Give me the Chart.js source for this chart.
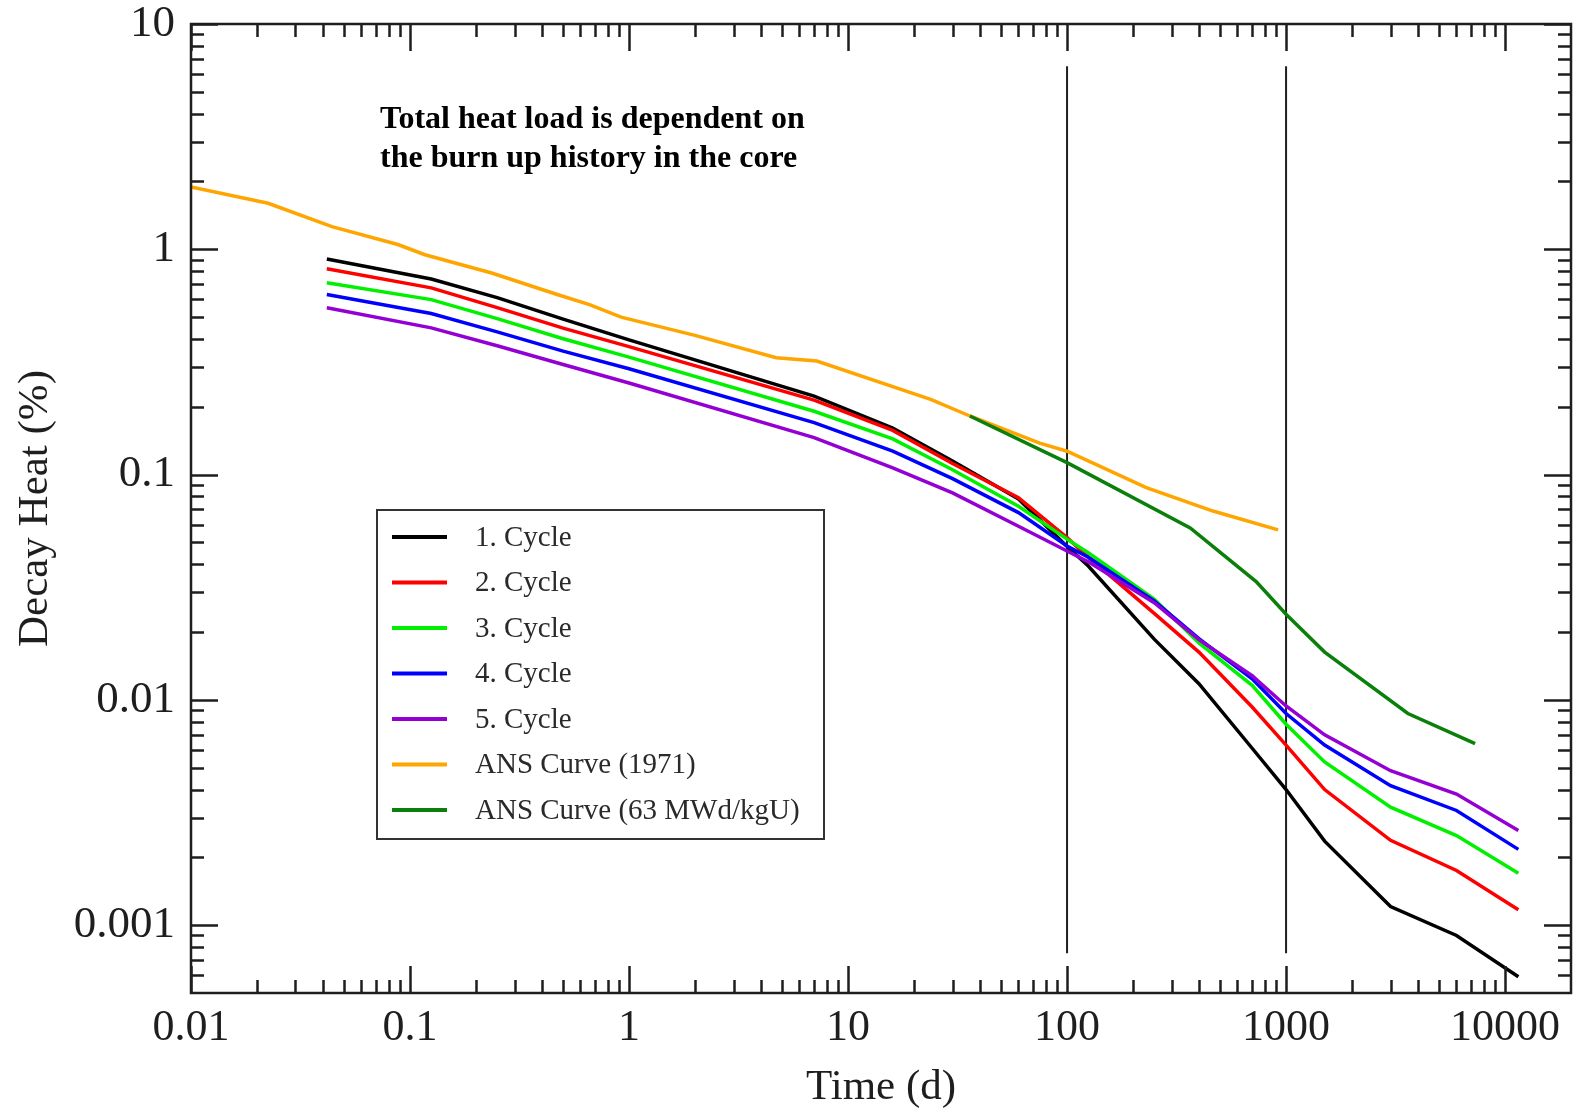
<!DOCTYPE html>
<html>
<head>
<meta charset="utf-8">
<script src="https://cdn.jsdelivr.net/npm/chart.js@4/dist/chart.umd.min.js"></script>
<style>
  html, body { margin: 0; padding: 0; background: #ffffff; }
  #wrap { width: 1576px; height: 1113px; }
</style>
</head>
<body>
<div id="wrap"><canvas id="c" width="1576" height="1113"></canvas></div>
<script>
// Decay heat after shutdown (% of operating power) versus cooling time in days.
const cycleTimes = [0.0417, 0.125, 0.25, 0.5, 1, 7, 16, 30, 60, 100, 125, 250, 400, 700, 1000, 1500, 3000, 6000, 11500];
const cycle1 = [0.906, 0.738, 0.61, 0.49, 0.396, 0.223, 0.161, 0.115, 0.078, 0.048, 0.0393, 0.0186, 0.0118, 0.0061, 0.0040, 0.00236, 0.00121, 0.00090, 0.00059];
const cycle2 = [0.82, 0.674, 0.551, 0.447, 0.37, 0.214, 0.157, 0.112, 0.079, 0.0525, 0.043, 0.0242, 0.0163, 0.0093, 0.0063, 0.0040, 0.00238, 0.00175, 0.00117];
const cycle3 = [0.71, 0.598, 0.492, 0.401, 0.332, 0.191, 0.144, 0.105, 0.0724, 0.0517, 0.045, 0.028, 0.0179, 0.0116, 0.0078, 0.0053, 0.00334, 0.0025, 0.0017];
const cycle4 = [0.63, 0.519, 0.430, 0.353, 0.295, 0.170, 0.127, 0.096, 0.0678, 0.0482, 0.043, 0.0275, 0.0187, 0.0124, 0.0087, 0.0063, 0.00416, 0.00323, 0.00217];
const cycle5 = [0.55, 0.448, 0.373, 0.308, 0.255, 0.146, 0.107, 0.083, 0.059, 0.0458, 0.041, 0.027, 0.0185, 0.0128, 0.0094, 0.0070, 0.00485, 0.00382, 0.00263];

const ans1971Times  = [0.01, 0.0225, 0.044, 0.088, 0.117, 0.236, 0.47, 0.66, 0.92, 2, 4.7, 7.2, 24, 36, 75, 100, 230, 464, 920];
const ans1971Values = [1.89, 1.60, 1.26, 1.05, 0.946, 0.785, 0.63, 0.568, 0.50, 0.415, 0.330, 0.319, 0.215, 0.182, 0.138, 0.127, 0.0875, 0.0689, 0.0568];

const ans63Times  = [36, 100, 365, 730, 1000, 1500, 3600, 7300];
const ans63Values = [0.182, 0.113, 0.058, 0.0335, 0.024, 0.0163, 0.0087, 0.0064];

// Reference verticals at 100 d and 1000 d
const markerTimes = [100, 1000];
const markerRange = [0.00075, 6.5];

const seriesNames  = ['1. Cycle', '2. Cycle', '3. Cycle', '4. Cycle', '5. Cycle', 'ANS Curve (1971)', 'ANS Curve (63 MWd/kgU)'];
const seriesColors = ['#000000', '#ff0000', '#00f000', '#0000ff', '#9400d3', '#ffa500', '#0a800a'];

const xTickValues = [0.01, 0.1, 1, 10, 100, 1000, 10000];
const xTickLabels = ['0.01', '0.1', '1', '10', '100', '1000', '10000'];
const yTickValues = [0.001, 0.01, 0.1, 1, 10];
const yTickLabels = ['0.001', '0.01', '0.1', '1', '10'];

const noteLines = ['Total heat load is dependent on', 'the burn up history in the core'];

const X_MIN = 0.01, X_MAX = 20000, Y_MIN = 0.0005, Y_MAX = 10;
const INK = '#1e1e1e';
const SERIF = "'Liberation Serif', 'Times New Roman', serif";

function pairs(xs, ys) { return xs.map((x, i) => ({ x: x, y: ys[i] })); }

const seriesData = [
  pairs(cycleTimes, cycle1),
  pairs(cycleTimes, cycle2),
  pairs(cycleTimes, cycle3),
  pairs(cycleTimes, cycle4),
  pairs(cycleTimes, cycle5),
  pairs(ans1971Times, ans1971Values),
  pairs(ans63Times, ans63Values)
];
const drawOrder = [7, 6, 5, 4, 3, 2, 1];

const datasets = seriesData.map((d, i) => ({
  label: seriesNames[i],
  data: d,
  borderColor: seriesColors[i],
  backgroundColor: seriesColors[i],
  borderWidth: 3.5,
  pointRadius: 0,
  tension: 0,
  fill: false,
  order: drawOrder[i],
  inLegend: true
}));
markerTimes.forEach(t => {
  datasets.push({
    label: '',
    data: [{ x: t, y: markerRange[0] }, { x: t, y: markerRange[1] }],
    borderColor: INK,
    borderWidth: 2,
    pointRadius: 0,
    fill: false,
    order: 8,
    inLegend: false
  });
});

function labelFor(values, labels) {
  return function (value) {
    const i = values.findIndex(v => Math.abs(Math.log10(v) - Math.log10(value)) < 1e-6);
    return i >= 0 ? labels[i] : '';
  };
}

// minor tick positions 2..9 within every decade of a range
function minorTicks(min, max) {
  const out = [];
  for (let e = Math.floor(Math.log10(min)); e <= Math.ceil(Math.log10(max)); e++) {
    for (let k = 2; k <= 9; k++) {
      const v = k * Math.pow(10, e);
      if (v > min * 1.0001 && v < max * 0.9999) out.push(v);
    }
  }
  return out;
}

const frameTicks = {
  id: 'frameTicks',
  afterDatasetsDraw(chart) {
    const { ctx, chartArea: a, scales: { x, y } } = chart;
    const MAJOR = 27, MINOR = 13;
    ctx.save();
    ctx.strokeStyle = INK;
    ctx.lineWidth = 2.5;
    ctx.lineCap = 'butt';
    ctx.strokeRect(a.left, a.top, a.right - a.left, a.bottom - a.top);
    ctx.beginPath();
    const xt = xTickValues.map(v => [v, MAJOR]).concat(minorTicks(X_MIN, X_MAX).map(v => [v, MINOR]));
    xt.forEach(([v, len]) => {
      const px = Math.round(x.getPixelForValue(v)) + 0.5;
      ctx.moveTo(px, a.bottom); ctx.lineTo(px, a.bottom - len);
      ctx.moveTo(px, a.top); ctx.lineTo(px, a.top + len);
    });
    const yt = yTickValues.map(v => [v, MAJOR]).concat(minorTicks(Y_MIN, Y_MAX).map(v => [v, MINOR]));
    yt.forEach(([v, len]) => {
      const py = Math.round(y.getPixelForValue(v)) + 0.5;
      ctx.moveTo(a.left, py); ctx.lineTo(a.left + len, py);
      ctx.moveTo(a.right, py); ctx.lineTo(a.right - len, py);
    });
    ctx.stroke();
    ctx.restore();
  }
};

const boxLegend = {
  id: 'boxLegend',
  afterDraw(chart) {
    const { ctx } = chart;
    const box = { left: 377, top: 510, right: 824, bottom: 839 };
    ctx.save();
    ctx.fillStyle = '#ffffff';
    ctx.fillRect(box.left, box.top, box.right - box.left, box.bottom - box.top);
    ctx.strokeStyle = '#333333';
    ctx.lineWidth = 2;
    ctx.strokeRect(box.left, box.top, box.right - box.left, box.bottom - box.top);
    ctx.font = "29px " + SERIF;
    ctx.textBaseline = 'middle';
    ctx.textAlign = 'left';
    let row = 0;
    chart.data.datasets.forEach(ds => {
      if (!ds.inLegend) return;
      const cy = 537 + row * 45.5;
      ctx.strokeStyle = ds.borderColor;
      ctx.lineWidth = 4;
      ctx.beginPath();
      ctx.moveTo(392, cy); ctx.lineTo(447, cy);
      ctx.stroke();
      ctx.fillStyle = '#2a2a2a';
      ctx.fillText(ds.label, 475, cy + 1);
      row++;
    });
    ctx.restore();
  }
};

const noteText = {
  id: 'noteText',
  afterDraw(chart) {
    const { ctx } = chart;
    ctx.save();
    ctx.font = "bold 32px " + SERIF;
    ctx.fillStyle = '#000000';
    ctx.textAlign = 'left';
    ctx.textBaseline = 'alphabetic';
    noteLines.forEach((t, i) => ctx.fillText(t, 380, 128 + i * 39));
    ctx.restore();
  }
};

new Chart(document.getElementById('c'), {
  type: 'line',
  data: { datasets: datasets },
  plugins: [frameTicks, boxLegend, noteText],
  options: {
    responsive: false,
    animation: false,
    devicePixelRatio: 1,
    layout: { padding: { top: 24, right: 5, bottom: 0, left: 0 } },
    plugins: { legend: { display: false }, tooltip: { enabled: false } },
    scales: {
      x: {
        type: 'logarithmic',
        position: 'bottom',
        min: X_MIN,
        max: X_MAX,
        grid: { display: false, drawTicks: false },
        border: { display: false },
        ticks: {
          autoSkip: false,
          maxRotation: 0,
          padding: 13,
          color: INK,
          font: { family: SERIF, size: 44, lineHeight: 1 },
          callback: labelFor(xTickValues, xTickLabels)
        },
        title: {
          display: true,
          text: 'Time (d)',
          color: INK,
          font: { family: SERIF, size: 43, lineHeight: 1 },
          padding: { top: 0, bottom: 4 }
        },
        afterBuildTicks(s) { s.ticks = xTickValues.map(v => ({ value: v })); },
        afterFit(s) { s.height = 120; s.paddingLeft = 0; s.paddingRight = 0; }
      },
      y: {
        type: 'logarithmic',
        position: 'left',
        min: Y_MIN,
        max: Y_MAX,
        grid: { display: false, drawTicks: false },
        border: { display: false },
        ticks: {
          autoSkip: false,
          padding: 16,
          color: INK,
          font: { family: SERIF, size: 45, lineHeight: 1 },
          callback: labelFor(yTickValues, yTickLabels)
        },
        title: {
          display: true,
          text: 'Decay Heat (%)',
          color: INK,
          font: { family: SERIF, size: 43, lineHeight: 1 },
          padding: { top: 14, bottom: 0 }
        },
        afterBuildTicks(s) { s.ticks = yTickValues.map(v => ({ value: v })); },
        afterFit(s) { s.width = 191; s.paddingTop = 0; s.paddingBottom = 0; }
      }
    }
  }
});
</script>
</body>
</html>
